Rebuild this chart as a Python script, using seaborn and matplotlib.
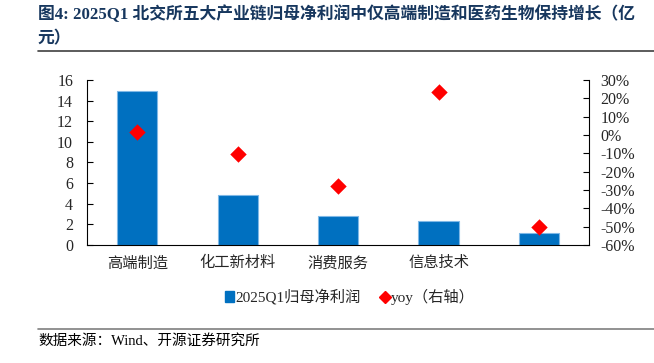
import numpy as np
import pandas as pd
import matplotlib
matplotlib.use('Agg')
import matplotlib.pyplot as plt
import seaborn as sns
from matplotlib.ticker import PercentFormatter, FixedLocator
from matplotlib.lines import Line2D
from matplotlib.patches import Patch

# data
categories = ['高端制造', '化工新材料', '消费服务', '信息技术', '']
profit = [14.9, 4.85, 2.8, 2.3, 1.2]          # 2025Q1 归母净利润 (亿元)
yoy = [1.8, -10.5, -27.6, 23.6, -50.0]          # yoy (%)

title_1 = '图4: 2025Q1 北交所五大产业链归母净利润中仅高端制造和医药生物保持增长（亿'
title_2 = '元）'
source = '数据来源：Wind、开源证券研究所'
bar_label = '2025Q1归母净利润'
yoy_label = 'yoy（右轴）'

sns.set_theme(style='white')
plt.rcParams['font.family'] = ['Liberation Serif', 'Noto Sans CJK SC', 'DejaVu Sans']
plt.rcParams['axes.unicode_minus'] = False

BLUE = '#0070C0'
RED = '#FF0000'
NAVY = '#17375E'

fig = plt.figure(figsize=(6.54, 3.63), dpi=100)
ax = fig.add_axes([0.133, 0.325, 0.768, 0.455])

df = pd.DataFrame({'cat': categories, 'profit': profit, 'yoy': yoy})
sns.barplot(data=df, x='cat', y='profit', order=categories, color=BLUE,
            saturation=1, width=0.4, edgecolor='#7FB8E6', linewidth=0.8, ax=ax)
ax.set_ylim(0, 16)
ax.set_yticks(np.arange(0, 17, 2))
ax.set_xlim(-0.5, len(categories) - 0.5)
ax.set_xlabel('')
ax.set_ylabel('')
ax.tick_params(axis='x', which='major', length=0, pad=8, labelsize=11)
ax.xaxis.set_minor_locator(FixedLocator(np.arange(0.5, len(categories) - 0.5, 1)))
ax.tick_params(axis='x', which='minor', direction='in', length=4, width=0.8, color='black')
ax.tick_params(axis='y', direction='in', length=4, width=0.8, labelsize=11.5, pad=10, color='black', left=True)

ax2 = ax.twinx()
sns.scatterplot(x=np.arange(len(yoy)), y=yoy, marker='D', color=RED, s=70,
                edgecolor=RED, linewidth=0, ax=ax2, zorder=5)
ax2.set_ylim(-60, 30)
ax2.set_yticks(np.arange(-60, 31, 10))
ax2.yaxis.set_major_formatter(PercentFormatter(decimals=0))
ax2.tick_params(axis='y', direction='in', length=4, width=0.8, labelsize=11.5, pad=8, color='black', right=True)
ax2.set_xlim(-0.5, len(categories) - 0.5)

for a in (ax, ax2):
    a.spines['top'].set_visible(False)
    for s in ('left', 'right', 'bottom'):
        a.spines[s].set_color('black')
        a.spines[s].set_linewidth(0.8)
ax.spines['right'].set_visible(False)
ax2.spines['left'].set_visible(False)
ax2.spines['bottom'].set_visible(False)

handles = [Patch(facecolor=BLUE, edgecolor=BLUE),
           Line2D([], [], marker='D', color=RED, linestyle='none', markersize=6)]
fig.legend(handles, [bar_label, yoy_label], loc='center', bbox_to_anchor=(0.535, 0.182),
           ncol=2, frameon=False, fontsize=11, handlelength=0.6, handleheight=0.7,
           handletextpad=0.1, columnspacing=1.3)

fig.text(0.058, 0.962, title_1, fontsize=12.1, fontweight='bold', color=NAVY,
         va='center', ha='left')
fig.text(0.058, 0.893, title_2, fontsize=12.1, fontweight='bold', color=NAVY,
         va='center', ha='left')
fig.add_artist(Line2D([0.058, 1.0], [0.86, 0.86], color='#404040', linewidth=1.2))
fig.add_artist(Line2D([0.058, 1.0], [0.094, 0.094], color='#7F7F7F', linewidth=1.2))
fig.text(0.058, 0.062, source, fontsize=10.5, va='center', ha='left', color='black')

fig.savefig('out.png', dpi=100)
